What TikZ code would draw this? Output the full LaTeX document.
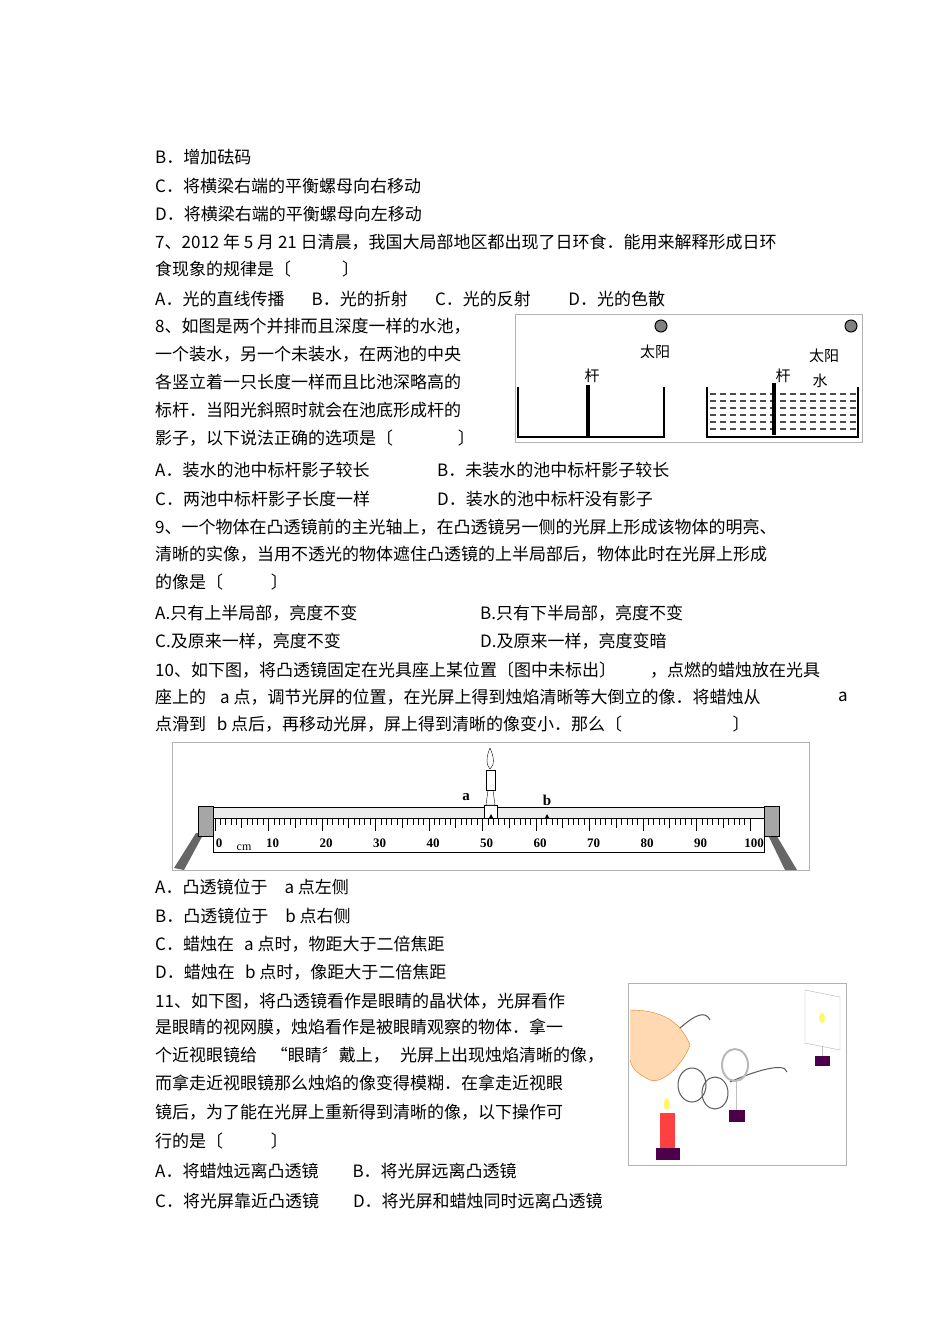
\documentclass[tikz,border=0pt]{standalone}
\usepackage{fontspec}
\setmainfont{Noto Sans CJK SC}
\newfontfamily\serifn{Liberation Serif}
\begin{document}
\begin{tikzpicture}[x=1pt,y=-1pt,
 tx/.style={anchor=west,inner sep=0pt,font=\fontsize{17}{17}\selectfont},
 sm/.style={inner sep=0pt,font=\fontsize{15}{15}\selectfont},
 num/.style={inner sep=0pt,font=\serifn\bfseries\fontsize{13}{13}\selectfont}]
\useasboundingbox (0,0) rectangle (950,1344);
\fill[white] (0,0) rectangle (950,1344);
\node[tx] (l1) at (155,157) {B．增加砝码};
\node[tx] (l2) at (155,186) {C．将横梁右端的平衡螺母向右移动};
\node[tx] (l3) at (155,214) {D．将横梁右端的平衡螺母向左移动};
\node[tx] (l4) at (155,242) {7、2012 年 5 月 21 日清晨，我国大局部地区都出现了日环食．能用来解释形成日环};
\node[tx] (l5) at (155,269) {食现象的规律是〔\hspace{3em}〕};
\node[tx] (l6) at (155,299) {A．光的直线传播\hspace{1.6em}B．光的折射\hspace{1.6em}C．光的反射\hspace{2.2em}D．光的色散};
\node[tx] (l7) at (155,326) {8、如图是两个并排而且深度一样的水池，};
\node[tx] (l8) at (155,354) {一个装水，另一个未装水，在两池的中央};
\node[tx] (l9) at (155,382) {各竖立着一只长度一样而且比池深略高的};
\node[tx] (l10) at (155,410) {标杆．当阳光斜照时就会在池底形成杆的};
\node[tx] (l11) at (155,438) {影子，以下说法正确的选项是〔\hspace{3.8em}〕};
\node[tx] (l12) at (155,470) {A．装水的池中标杆影子较长};
\node[tx] (l12b) at (437,470) {B．未装水的池中标杆影子较长};
\node[tx] (l13) at (155,499) {C．两池中标杆影子长度一样};
\node[tx] (l13b) at (437,499) {D．装水的池中标杆没有影子};
\node[tx] (l14) at (155,527) {9、一个物体在凸透镜前的主光轴上，在凸透镜另一侧的光屏上形成该物体的明亮、};
\node[tx] (l15) at (155,554) {清晰的实像，当用不透光的物体遮住凸透镜的上半局部后，物体此时在光屏上形成};
\node[tx] (l16) at (155,582) {的像是〔\hspace{2.8em}〕};
\node[tx] (l17) at (155,613) {A.只有上半局部，亮度不变};
\node[tx] (l17b) at (480,613) {B.只有下半局部，亮度不变};
\node[tx] (l18) at (155,641) {C.及原来一样，亮度不变};
\node[tx] (l18b) at (480,641) {D.及原来一样，亮度变暗};
\node[tx] (l19) at (155,670) {10、如下图，将凸透镜固定在光具座上某位置〔图中未标出〕\hspace{2em}，点燃的蜡烛放在光具};
\node[tx] (l20) at (155,697) {座上的\hspace{0.6em} a 点，调节光屏的位置，在光屏上得到烛焰清晰等大倒立的像．将蜡烛从};
\node[tx] (l20b) at (838,697) {a};
\node[tx] (l21) at (155,724) {点滑到\hspace{0.4em} b 点后，再移动光屏，屏上得到清晰的像变小．那么〔\hspace{6.5em}〕};
\node[tx] (l22) at (155,887) {A．凸透镜位于\hspace{1em}a 点左侧};
\node[tx] (l23) at (155,916) {B．凸透镜位于\hspace{1em}b 点右侧};
\node[tx] (l24) at (155,944) {C．蜡烛在\hspace{0.6em}a 点时，物距大于二倍焦距};
\node[tx] (l25) at (155,972) {D．蜡烛在\hspace{0.6em}b 点时，像距大于二倍焦距};
\node[tx] (l26) at (155,1001) {11、如下图，将凸透镜看作是眼睛的晶状体，光屏看作};
\node[tx] (l27) at (155,1027) {是眼睛的视网膜，烛焰看作是被眼睛观察的物体．拿一};
\node[tx] (l28) at (155,1055) {个近视眼镜给\hspace{0.8em}“眼睛〞戴上，\hspace{0.6em}光屏上出现烛焰清晰的像，};
\node[tx] (l29) at (155,1083) {而拿走近视眼镜那么烛焰的像变得模糊．在拿走近视眼};
\node[tx] (l30) at (155,1112) {镜后，为了能在光屏上重新得到清晰的像，以下操作可};
\node[tx] (l31) at (155,1141) {行的是〔\hspace{2.8em}〕};
\node[tx] (l32) at (155,1171) {A．将蜡烛远离凸透镜\hspace{2em}B．将光屏远离凸透镜};
\node[tx] (l33) at (155,1201) {C．将光屏靠近凸透镜\hspace{2em}D．将光屏和蜡烛同时远离凸透镜};
% pool figure
\draw[gray!60] (515,314) rectangle (862,442);
\draw[line width=1.2] (518,387) -- (518,437) -- (664,437) -- (664,387);
\fill (586,385) rectangle (590,437);
\draw[line width=1.2] (707,387) -- (707,437) -- (858,437) -- (858,387);
\foreach \yy in {394,401,408,415,422,429}
  \draw[gray!60!black,line width=1.2,dash pattern=on 6pt off 4pt] (710,\yy) -- (856,\yy);
\fill (772,383) rectangle (776,435);
\filldraw[fill=gray,draw=black,line width=1] (661,326) circle (6);
\filldraw[fill=gray,draw=black,line width=1] (851,326) circle (6);
\node[sm] (s1) at (655,352) {太阳};
\node[sm] (s2) at (824,356) {太阳};
\node[sm] (g1) at (592,376) {杆};
\node[sm] (g2) at (783,376) {杆};
\node[sm] (w) at (820,381) {水};
% optical bench
\draw[gray!60] (172,742) rectangle (809,870);
\fill[gray!80!black] (174,868) -- (196,833) -- (204,833) -- (184,870) -- cycle;
\fill[gray!80!black] (797,870) -- (775,833) -- (767,833) -- (785,870) -- cycle;
\draw[fill=gray!70] (198,806) rectangle (213,836);
\draw[fill=gray!70] (764,806) rectangle (779,836);
\draw[fill=gray!15] (213,807) rectangle (764,818);
\draw (213,818) rectangle (764,852);
\foreach \c in {0,...,100}{
  \pgfmathsetmacro\xx{215+5.35*\c}
  \pgfmathsetmacro\ll{mod(\c,10)==0?12:(mod(\c,5)==0?9:6)}
  \draw[line width=0.7] (\xx,819) -- ++(0,\ll);
}
\foreach \c in {0,10,...,100}
  \node[num] (n\c) at (215+5.35*\c+4,843) {\c};
\node[num,font=\serifn\fontsize{12}{12}\selectfont] (cm) at (244,848) {cm};
% candle
\draw[fill=white] (484,805) rectangle (497,818);
\draw[fill=white] (486,805) -- (488,790) -- (493,790) -- (495,805) -- cycle;
\draw[fill=white] (486,770) rectangle (495,790);
\draw[fill=white] (490,748) .. controls (494,757) and (495,765) .. (490,769) .. controls (486,765) and (486,757) .. (490,748);
\fill (489,818) -- (491,814) -- (493,818) -- cycle;
\fill (545,818) -- (547,814) -- (549,818) -- cycle;
\node[num,font=\serifn\bfseries\fontsize{15}{15}\selectfont] (la) at (466,797) {a};
\node[num,font=\serifn\bfseries\fontsize{15}{15}\selectfont] (lb) at (547,800) {b};
% photo
\draw[gray!60] (628,983) rectangle (846,1165);
\fill[orange!30!white] (630,1010) .. controls (660,1010) and (680,1020) .. (690,1045) .. controls (685,1060) and (665,1085) .. (650,1080) .. controls (640,1075) and (632,1070) .. (630,1060) -- cycle;
\draw[orange!50!brown] (630,1010) .. controls (660,1010) and (680,1020) .. (690,1045) .. controls (685,1060) and (665,1085) .. (650,1080) .. controls (640,1075) and (632,1070) .. (630,1060);
\draw[gray!70!black,line width=1] (680,1028) .. controls (695,1015) and (705,1010) .. (710,1020);
\draw[gray!70!black,line width=1] (692,1085) ellipse (14 and 17);
\draw[gray!70!black,line width=1] (715,1093) ellipse (13 and 16);
\draw[gray!70!black,line width=1] (730,1082) .. controls (745,1075) and (785,1060) .. (787,1072);
\draw[gray!55,line width=2] (735,1065) ellipse (13 and 16);
\draw[gray!50] (736,1081) -- (736,1112);
\fill[violet!60!black] (729,1110) rectangle (745,1122);
\fill[red!75] (660,1113) rectangle (675,1148);
\fill[yellow!60] (667,1104) ellipse (3 and 6);
\fill[violet!60!black] (656,1148) rectangle (680,1160);
\draw[gray!60,fill=white] (805,990) -- (840,997) -- (840,1050) -- (805,1043) -- cycle;
\fill[yellow!60] (822,1018) ellipse (3 and 5);
\draw[gray!50] (822,1046) -- (822,1056);
\fill[violet!60!black] (815,1056) rectangle (830,1066);
\end{tikzpicture}
\end{document}
